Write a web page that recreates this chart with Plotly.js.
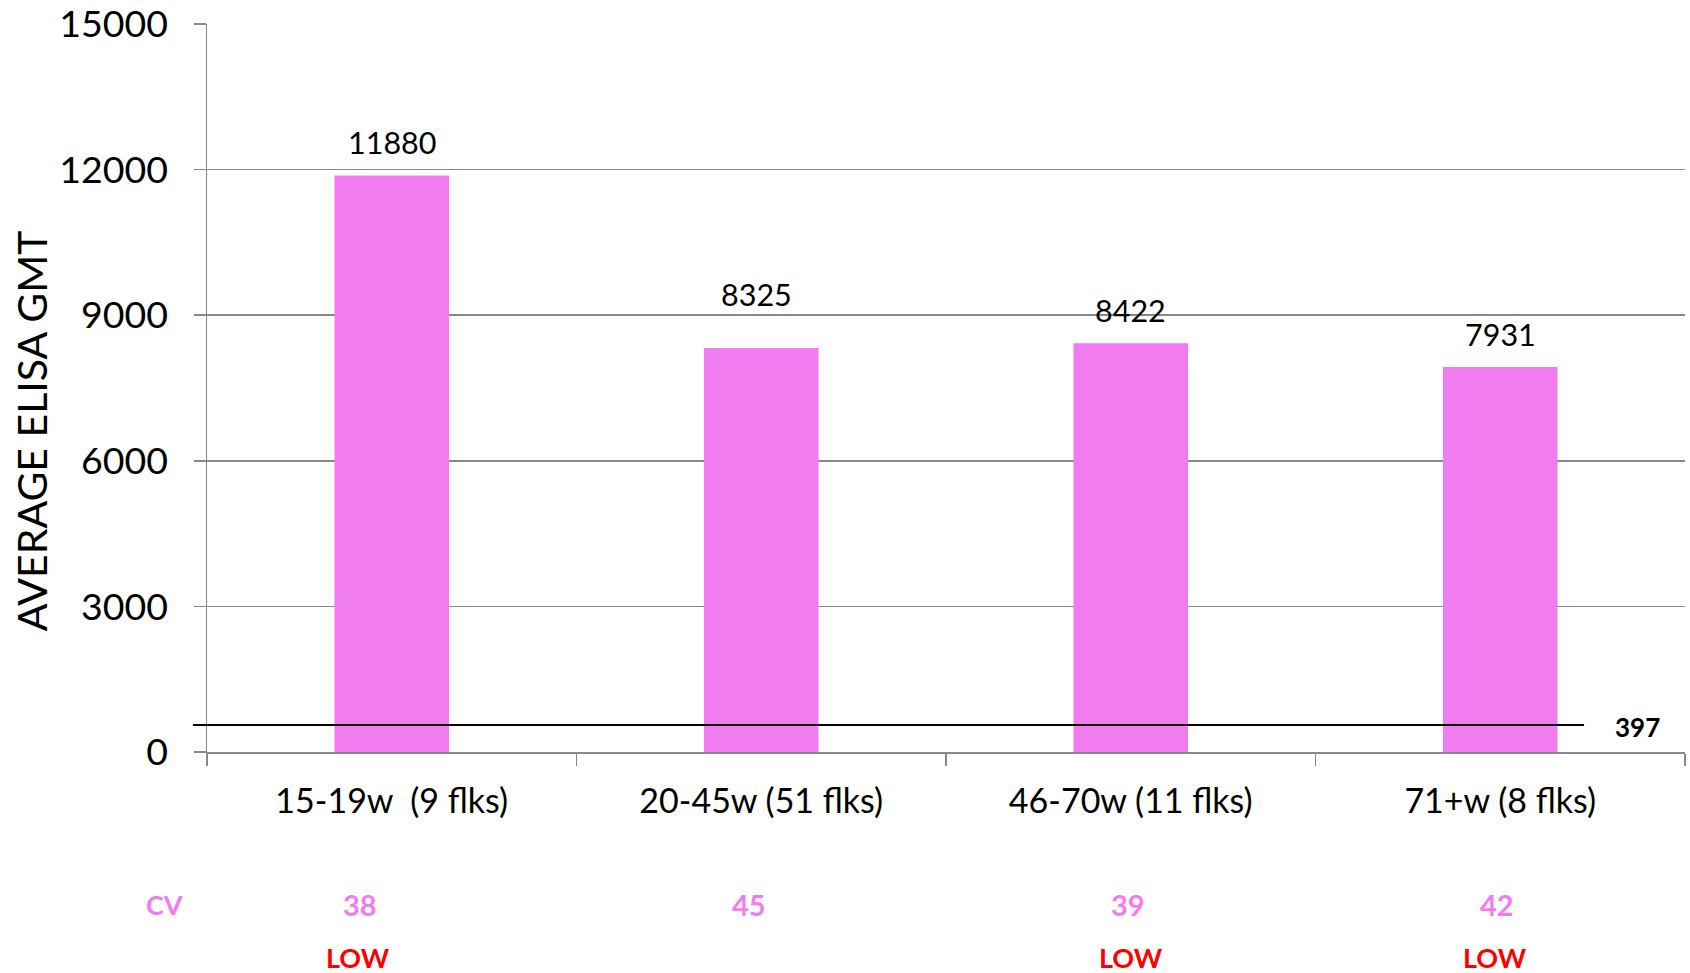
<!DOCTYPE html>
<html>
<head>
<meta charset="utf-8">
<script src="https://cdn.plot.ly/plotly-3.0.1.min.js"></script>
<style>
  html, body { margin: 0; padding: 0; background: #ffffff; }
  #chart { width: 1690px; height: 973px; }
</style>
</head>
<body>
<div id="chart"></div>
<script>
// ---- data ----
const categories = ["15-19w  (9 flks)", "20-45w (51 flks)", "46-70w (11 flks)", "71+w (8 flks)"];
const gmtValues = [11880, 8325, 8422, 7931];
const cvValues = ["38", "45", "39", "42"];
const lowFlags = ["LOW", "", "LOW", "LOW"];
const thresholdLevel = 556;      // drawn level of the reference line
const thresholdLabel = "397";
const yTickValues = [0, 3000, 6000, 9000, 12000, 15000];
const yTitle = "AVERAGE ELISA GMT";
const cvTitle = "CV";

// ---- styles / placement offsets (pixels) ----
const FONT = "Lato, 'Open Sans', sans-serif";
const BAR = "#F07CF0";
const GRID = "#888888";
const valueLabelDx = [0, -5, 0, 0];
const valueLabelDy = [13, 34, 13, 13];
const cvDx = [-32, -12, -3, -3];
const lowDx = [-34, 0, 0, -5];

const trace = {
  type: "bar",
  x: categories,
  y: gmtValues,
  marker: { color: BAR, line: { width: 0 } },
  hoverinfo: "x+y",
  showlegend: false
};

const annotations = [];
categories.forEach((c, i) => {
  annotations.push({
    x: c, y: gmtValues[i], xref: "x", yref: "y",
    text: String(gmtValues[i]), showarrow: false,
    yanchor: "bottom", yshift: valueLabelDy[i], xshift: valueLabelDx[i],
    font: { family: FONT, size: 30.5, color: "#000000" }
  });
  annotations.push({
    x: c, y: -0.2124, xref: "x", yref: "paper",
    text: "<b>" + cvValues[i] + "</b>", showarrow: false,
    yanchor: "middle", xshift: cvDx[i], yshift: 2,
    font: { family: FONT, size: 29, color: BAR }
  });
  if (lowFlags[i]) {
    annotations.push({
      x: c, y: -0.2825, xref: "x", yref: "paper",
      text: "<b>" + lowFlags[i] + "</b>", showarrow: false,
      yanchor: "middle", xshift: lowDx[i],
      font: { family: FONT, size: 27, color: "#FF0000" }
    });
  }
});
annotations.push({
  x: -0.0289, y: -0.2124, xref: "paper", yref: "paper",
  text: "<b>" + cvTitle + "</b>", showarrow: false,
  xanchor: "center", yanchor: "middle", yshift: 2,
  font: { family: FONT, size: 27, color: BAR }
});
annotations.push({
  x: 0.968, y: thresholdLevel, xref: "paper", yref: "y",
  text: "<b>" + thresholdLabel + "</b>", showarrow: false,
  xanchor: "center", yanchor: "middle", yshift: -2,
  font: { family: FONT, size: 26, color: "#000000" }
});
annotations.push({
  x: -0.1182, y: 0.441, xref: "paper", yref: "paper",
  text: yTitle, showarrow: false, textangle: -90,
  xanchor: "center", yanchor: "middle",
  font: { family: FONT, size: 41, color: "#000000" }
});

const layout = {
  width: 1690, height: 973,
  margin: { l: 207, r: 5, t: 24, b: 221 },
  paper_bgcolor: "#ffffff", plot_bgcolor: "#ffffff",
  bargap: 0.69,
  font: { family: FONT, color: "#000000" },
  xaxis: {
    type: "category",
    showline: true, linecolor: GRID, linewidth: 1.5,
    ticks: "outside", tickson: "boundaries", ticklen: 12, tickcolor: GRID, tickwidth: 1.5,
    ticklabelstandoff: 19,
    tickfont: { family: FONT, size: 34, color: "#000000" },
    showgrid: false, zeroline: false, fixedrange: true
  },
  yaxis: {
    range: [0, 15000],
    tickvals: yTickValues,
    ticktext: yTickValues.map(String),
    showline: true, linecolor: GRID, linewidth: 1.5,
    ticks: "outside", ticklen: 12, tickcolor: GRID, tickwidth: 1.5,
    ticklabelstandoff: 18,
    showgrid: true, gridcolor: GRID, gridwidth: 1.5,
    zeroline: false,
    tickfont: { family: FONT, size: 37.5, color: "#000000" },
    fixedrange: true
  },
  shapes: [{
    type: "line", xref: "paper", yref: "y",
    x0: -0.0095, x1: 0.9317, y0: thresholdLevel, y1: thresholdLevel,
    line: { color: "#000000", width: 2 }
  }],
  annotations: annotations
};

Plotly.newPlot("chart", [trace], layout, { displayModeBar: false, staticPlot: true });
</script>
</body>
</html>
